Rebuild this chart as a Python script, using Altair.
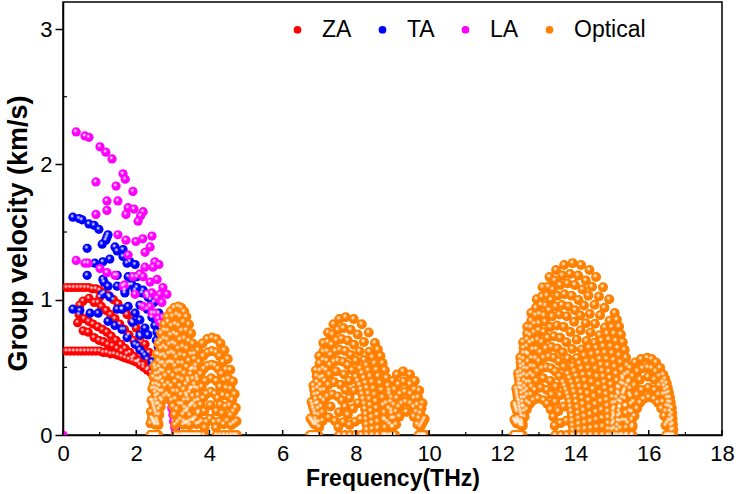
import altair as alt
import pandas as pd

# ---------------- acoustic branches: frequency (THz), group velocity (km/s) ----------------
za_freq = [0.10, 0.20, 0.30, 0.40, 0.50, 0.60, 0.70, 0.80, 0.90, 1.00, 1.12, 1.25, 1.38, 1.50, 1.62, 1.75, 1.88, 2.00, 2.12, 2.24, 2.35,
           0.10, 0.20, 0.30, 0.40, 0.50, 0.60, 0.70, 0.80, 0.90, 1.00, 1.10, 1.20, 1.30, 1.40, 1.50, 1.60, 1.70, 1.80, 1.90, 2.00, 2.10, 2.20, 2.30, 2.40, 2.50, 2.58,
           0.46, 0.55, 0.71, 0.85, 0.96, 1.01, 1.05, 1.18, 1.30, 1.42, 1.55, 1.68, 1.80, 1.93, 2.05, 2.18, 2.30, 2.42,
           0.44, 0.58, 0.70, 0.82, 0.95, 1.08, 1.20, 1.32, 1.45, 1.58, 1.70, 1.83, 1.95, 2.08, 2.20, 2.33,
           0.40, 0.55, 0.69, 0.85, 0.98, 1.10, 1.22, 1.35, 1.48, 1.60, 1.75, 1.90, 2.05]
za_vel = [1.09, 1.09, 1.09, 1.09, 1.09, 1.09, 1.09, 1.08, 1.08, 1.07, 1.05, 1.03, 1.00, 0.97, 0.93, 0.89, 0.84, 0.79, 0.73, 0.67, 0.61,
          0.62, 0.62, 0.62, 0.62, 0.62, 0.62, 0.62, 0.62, 0.62, 0.62, 0.61, 0.61, 0.60, 0.60, 0.59, 0.58, 0.57, 0.56, 0.55, 0.54, 0.52, 0.50, 0.48, 0.46, 0.43, 0.40,
          0.96, 0.99, 1.01, 0.98, 0.98, 1.02, 0.95, 0.92, 0.89, 0.86, 0.82, 0.78, 0.74, 0.70, 0.66, 0.61, 0.56, 0.51,
          0.89, 0.86, 0.84, 0.82, 0.80, 0.78, 0.76, 0.73, 0.70, 0.67, 0.64, 0.61, 0.58, 0.55, 0.52, 0.49,
          0.83, 0.77, 0.76, 0.72, 0.70, 0.69, 0.67, 0.66, 0.64, 0.62, 0.60, 0.57, 0.54]

ta_freq = [0.27, 0.44, 0.52, 0.71, 0.85, 0.98, 1.17, 1.20, 1.07, 0.66, 1.42, 1.48, 1.64, 1.64, 1.83, 1.97, 0.87, 1.09, 1.28, 1.75,
           1.23, 0.66, 1.12, 1.09, 1.48, 1.78, 2.02, 1.23, 1.48, 1.69, 1.89, 1.97, 2.16, 2.30, 1.07, 1.28, 1.69, 1.83, 2.02, 2.19,
           2.32, 0.27, 0.46, 0.74, 0.96, 1.23, 1.42, 1.61, 1.75, 1.97, 2.10, 2.24, 2.43, 1.48, 1.61, 1.78, 1.97, 2.10, 2.10, 2.24,
           2.32, 2.10, 1.91, 2.30, 2.43, 2.51, 2.57, 2.55, 2.60, 2.48, 2.40, 2.62, 3.04, 3.07, 3.09]
ta_vel = [1.61, 1.60, 1.59, 1.56, 1.55, 1.52, 1.44, 1.46, 1.41, 1.38, 1.39, 1.36, 1.37, 1.32, 1.28, 1.26, 1.27, 1.28, 1.30, 1.27,
          1.48, 1.18, 1.13, 1.15, 1.18, 1.17, 1.17, 1.10, 1.10, 1.07, 1.11, 1.07, 1.05, 1.04, 1.04, 1.02, 1.05, 1.11, 1.09, 1.07,
          1.02, 0.93, 0.92, 0.90, 0.90, 0.84, 0.81, 0.78, 0.72, 0.67, 0.63, 0.59, 0.54, 0.93, 0.93, 0.95, 0.90, 0.96, 0.85, 0.79,
          0.74, 0.74, 0.83, 0.93, 0.87, 0.81, 0.76, 0.70, 0.65, 0.98, 1.00, 0.90, 0.10, 0.05, 0.02]

la_freq = [0.36, 0.60, 0.71, 1.01, 1.17, 1.34, 1.64, 1.70, 0.90, 1.45, 1.91, 1.20, 1.50, 1.78, 1.94, 2.19, 1.72, 2.12, 1.20, 0.90,
           2.05, 1.50, 1.72, 1.99, 2.18, 2.43, 2.38, 2.24, 0.36, 0.60, 0.69, 1.01, 1.20, 1.42, 1.78, 2.24, 2.51, 2.62, 2.46, 1.91,
           2.19, 2.57, 2.38, 2.73, 2.65, 2.84, 2.43, 2.30, 2.57, 2.70, 2.19, 2.38, 2.51, 2.60, 2.73, 1.64, 1.97, 1.69, 2.10, 2.65,
           2.43, 2.93, 2.95, 2.97, 3.00, 3.02, 3.05, 3.08, 0.00]
la_vel = [2.24, 2.21, 2.20, 2.13, 2.09, 2.04, 1.93, 1.89, 1.87, 1.84, 1.80, 1.73, 1.73, 1.68, 1.67, 1.65, 1.63, 1.62, 1.66, 1.63,
          1.58, 1.48, 1.44, 1.43, 1.45, 1.47, 1.39, 1.35, 1.29, 1.27, 1.27, 1.23, 1.20, 1.18, 1.33, 1.24, 1.28, 1.26, 1.24, 1.17,
          1.17, 1.15, 1.13, 1.09, 1.04, 1.04, 1.05, 1.04, 1.01, 0.98, 0.95, 0.95, 0.90, 0.86, 0.87, 1.10, 1.04, 1.11, 1.19, 0.83,
          0.90, 0.30, 0.25, 0.20, 0.15, 0.10, 0.06, 0.02, 0.00]

# ---------------- optical branches, one list per band group, traced arch by arch ----------------
opt1_freq = [2.60, 2.61, 2.63, 2.67, 2.71, 2.77, 2.84, 2.91, 2.97, 3.01, 3.05, 3.07, 3.08,
             2.58, 2.59, 2.62, 2.67, 2.72, 2.79, 2.88, 2.96, 3.02, 3.07, 3.11, 3.14, 3.15,
             2.56, 2.57, 2.61, 2.66, 2.73, 2.80, 2.91, 3.01, 3.07, 3.13, 3.18, 3.21, 3.22,
             2.53, 2.53, 2.55, 2.57, 2.60, 2.64, 2.68, 2.74, 2.80, 2.87, 2.94, 3.00, 3.06, 3.11, 3.16, 3.20, 3.23, 3.26, 3.28, 3.29, 3.29,
             2.51, 2.51, 2.53, 2.55, 2.59, 2.63, 2.68, 2.74, 2.81, 2.89, 2.97, 3.04, 3.10, 3.16, 3.21, 3.26, 3.30, 3.32, 3.34, 3.36, 3.36,
             2.49, 2.50, 2.51, 2.54, 2.57, 2.62, 2.68, 2.75, 2.83, 2.91, 3.00, 3.07, 3.15, 3.21, 3.27, 3.32, 3.36, 3.39, 3.41, 3.43, 3.43,
             2.47, 2.48, 2.49, 2.52, 2.56, 2.62, 2.68, 2.76, 2.85, 2.94, 3.04, 3.12, 3.20, 3.27, 3.33, 3.38, 3.42, 3.46, 3.48, 3.50, 3.50,
             2.45, 2.46, 2.47, 2.51, 2.55, 2.61, 2.68, 2.76, 2.86, 2.96, 3.07, 3.16, 3.24, 3.32, 3.38, 3.44, 3.49, 3.52, 3.55, 3.57, 3.57,
             2.42, 2.43, 2.45, 2.48, 2.53, 2.60, 2.68, 2.77, 2.87, 2.99, 3.11, 3.20, 3.29, 3.37, 3.44, 3.50, 3.55, 3.59, 3.62, 3.63, 3.64,
             2.39, 2.39, 2.40, 2.42, 2.44, 2.47, 2.51, 2.56, 2.61, 2.68, 2.76, 2.85, 2.94, 3.04, 3.15, 3.23, 3.31, 3.37, 3.44, 3.50, 3.55, 3.59, 3.63, 3.66, 3.68, 3.70, 3.71, 3.72, 3.72]
opt1_vel = [0, .075, .15, .21, .255, .285, .30, .285, .255, .21, .15, .075, 0,
            0, .095, .19, .266, .323, .361, .38, .361, .323, .266, .19, .095, 0,
            0, .115, .23, .322, .391, .437, .46, .437, .391, .322, .23, .115, 0,
            0, .076, .151, .227, .297, .362, .421, .47, .508, .532, .54, .532, .508, .47, .421, .362, .297, .227, .151, .076, 0,
            0, .085, .171, .256, .336, .409, .476, .531, .573, .601, .61, .601, .573, .531, .476, .409, .336, .256, .171, .085, 0,
            0, .095, .19, .286, .374, .456, .53, .592, .639, .67, .68, .67, .639, .592, .53, .456, .374, .286, .19, .095, 0,
            0, .105, .21, .315, .413, .503, .585, .653, .705, .739, .75, .739, .705, .653, .585, .503, .413, .315, .21, .105, 0,
            0, .115, .23, .344, .451, .549, .64, .713, .771, .808, .82, .808, .771, .713, .64, .549, .451, .344, .23, .115, 0,
            0, .125, .249, .374, .49, .596, .694, .774, .837, .877, .89, .877, .837, .774, .694, .596, .49, .374, .249, .125, 0,
            0, .086, .171, .257, .342, .428, .513, .599, .675, .751, .817, .874, .912, .941, .95, .941, .912, .874, .817, .751, .675, .599, .513, .428, .342, .257, .171, .086, 0]

opt2_freq = [3.85, 3.87, 3.92, 4.02, 4.13, 4.18, 4.20,
             3.75, 3.78, 3.86, 4.03, 4.19, 4.27, 4.30,
             3.65, 3.66, 3.70, 3.76, 3.83, 3.92, 4.04, 4.15, 4.23, 4.30, 4.35, 4.39, 4.40,
             3.55, 3.57, 3.62, 3.69, 3.79, 3.89, 4.05, 4.19, 4.29, 4.37, 4.44, 4.49, 4.50,
             3.45, 3.46, 3.47, 3.51, 3.55, 3.61, 3.68, 3.76, 3.85, 3.95, 4.06, 4.15, 4.24, 4.33, 4.40, 4.46, 4.51, 4.55, 4.58, 4.59, 4.60,
             3.37, 3.38, 3.40, 3.43, 3.49, 3.55, 3.63, 3.72, 3.83, 3.95, 4.07, 4.18, 4.28, 4.37, 4.45, 4.52, 4.58, 4.62, 4.66, 4.67, 4.68,
             3.30, 3.31, 3.33, 3.37, 3.43, 3.50, 3.59, 3.69, 3.81, 3.94, 4.07, 4.19, 4.30, 4.41, 4.50, 4.57, 4.64, 4.69, 4.72, 4.74, 4.75]
opt2_vel = [0, .054, .096, .12, .096, .054, 0,
            0, .099, .176, .22, .176, .099, 0,
            0, .08, .16, .224, .272, .304, .32, .304, .272, .224, .16, .08, 0,
            0, .105, .21, .294, .357, .399, .42, .399, .357, .294, .21, .105, 0,
            0, .073, .146, .218, .286, .348, .406, .452, .489, .512, .52, .512, .489, .452, .406, .348, .286, .218, .146, .073, 0,
            0, .087, .174, .26, .341, .415, .484, .539, .583, .611, .62, .611, .583, .539, .484, .415, .341, .26, .174, .087, 0,
            0, .101, .202, .302, .396, .482, .562, .626, .677, .709, .72, .709, .677, .626, .562, .482, .396, .302, .202, .101, 0]

opt3_freq = [6.97, 7.00, 7.09, 7.26, 7.43, 7.52, 7.55,
             6.95, 6.99, 7.09, 7.31, 7.54, 7.66, 7.70,
             6.92, 6.93, 6.98, 7.05, 7.13, 7.22, 7.36, 7.51, 7.62, 7.71, 7.78, 7.83, 7.85,
             6.90, 6.92, 6.97, 7.05, 7.14, 7.25, 7.41, 7.59, 7.72, 7.83, 7.92, 7.98, 8.00,
             6.88, 6.90, 6.96, 7.05, 7.15, 7.28, 7.46, 7.68, 7.82, 7.95, 8.06, 8.13, 8.15,
             6.86, 6.87, 6.89, 6.92, 6.97, 7.03, 7.10, 7.19, 7.29, 7.40, 7.51, 7.65, 7.78, 7.90, 8.00, 8.10, 8.17, 8.23, 8.27, 8.29, 8.30,
             6.84, 6.85, 6.87, 6.91, 6.96, 7.03, 7.11, 7.21, 7.31, 7.44, 7.56, 7.71, 7.86, 8.00, 8.12, 8.22, 8.30, 8.37, 8.41, 8.44, 8.45,
             6.81, 6.82, 6.84, 6.88, 6.94, 7.02, 7.11, 7.22, 7.34, 7.47, 7.61, 7.78, 7.95, 8.10, 8.23, 8.34, 8.44, 8.51, 8.56, 8.59, 8.60,
             6.78, 6.79, 6.82, 6.86, 6.93, 7.01, 7.11, 7.23, 7.36, 7.51, 7.66, 7.86, 8.05, 8.22, 8.37, 8.51, 8.61, 8.70, 8.75, 8.79, 8.80,
             6.75, 6.76, 6.79, 6.84, 6.91, 7.00, 7.11, 7.24, 7.39, 7.55, 7.72, 7.94, 8.16, 8.35, 8.52, 8.67, 8.79, 8.88, 8.95, 8.99, 9.00,
             8.30, 8.28, 8.25, 8.20, 8.14, 8.05,
             8.45, 8.43, 8.39, 8.34, 8.26, 8.17,
             8.60, 8.58, 8.54, 8.48, 8.39, 8.29,
             8.80, 8.78, 8.73, 8.66, 8.56, 8.45,
             9.00, 8.97, 8.92, 8.84, 8.73, 8.60]
opt3_vel = [0, .059, .104, .13, .104, .059, 0,
            0, .095, .168, .21, .168, .095, 0,
            0, .075, .15, .21, .255, .285, .30, .285, .255, .21, .15, .075, 0,
            0, .098, .195, .273, .332, .371, .39, .371, .332, .273, .195, .098, 0,
            0, .118, .235, .329, .40, .447, .47, .447, .40, .329, .235, .118, 0,
            0, .077, .154, .231, .303, .369, .429, .479, .517, .542, .55, .542, .517, .479, .429, .369, .303, .231, .154, .077, 0,
            0, .088, .176, .265, .347, .422, .491, .548, .592, .621, .63, .621, .592, .548, .491, .422, .347, .265, .176, .088, 0,
            0, .099, .199, .298, .391, .476, .554, .618, .667, .699, .71, .699, .667, .618, .554, .476, .391, .298, .199, .099, 0,
            0, .111, .221, .332, .435, .529, .616, .687, .743, .778, .79, .778, .743, .687, .616, .529, .435, .332, .221, .111, 0,
            0, .122, .244, .365, .479, .583, .679, .757, .818, .857, .87, .857, .818, .757, .679, .583, .479, .365, .244, .122, 0,
            .039, .116, .193, .267, .336, .399,
            .044, .132, .221, .306, .384, .457,
            .050, .149, .249, .344, .433, .515,
            .055, .166, .277, .383, .482, .573,
            .061, .183, .305, .422, .531, .631]

opt4_freq = [9.07, 9.10, 9.19, 9.38, 9.58, 9.68, 9.72,
             9.00, 9.01, 9.05, 9.10, 9.17, 9.25, 9.36, 9.49, 9.58, 9.65, 9.72, 9.76, 9.77,
             8.92, 8.93, 8.98, 9.04, 9.12, 9.21, 9.34, 9.49, 9.59, 9.68, 9.76, 9.80, 9.82,
             8.84, 8.86, 8.90, 8.97, 9.06, 9.16, 9.31, 9.48, 9.60, 9.70, 9.79, 9.84, 9.86,
             8.76, 8.78, 8.83, 8.91, 9.01, 9.12, 9.29, 9.48, 9.61, 9.73, 9.82, 9.88, 9.90]
opt4_vel = [0, .077, .136, .17, .136, .077, 0,
            0, .061, .123, .172, .208, .233, .245, .233, .208, .172, .123, .061, 0,
            0, .08, .16, .224, .272, .304, .32, .304, .272, .224, .16, .08, 0,
            0, .099, .198, .277, .336, .375, .395, .375, .336, .277, .198, .099, 0,
            0, .118, .235, .329, .40, .447, .47, .447, .40, .329, .235, .118, 0]

opt5_freq = [12.55, 12.56, 12.61, 12.67, 12.75, 12.85, 12.98, 13.13, 13.23, 13.32, 13.39, 13.43, 13.45,
             12.53, 12.55, 12.60, 12.68, 12.78, 12.89, 13.05, 13.22, 13.35, 13.45, 13.53, 13.59, 13.61,
             12.51, 12.53, 12.59, 12.68, 12.80, 12.93, 13.12, 13.32, 13.46, 13.58, 13.68, 13.75, 13.77,
             12.50, 12.51, 12.53, 12.56, 12.62, 12.68, 12.76, 12.85, 12.96, 13.08, 13.20, 13.33, 13.45, 13.56, 13.66, 13.74, 13.81, 13.86, 13.90, 13.92, 13.93,
             12.48, 12.49, 12.51, 12.55, 12.61, 12.68, 12.78, 12.88, 13.00, 13.13, 13.27, 13.41, 13.55, 13.68, 13.79, 13.89, 13.96, 14.02, 14.07, 14.09, 14.10,
             12.46, 12.47, 12.50, 12.54, 12.61, 12.69, 12.79, 12.91, 13.04, 13.19, 13.34, 13.50, 13.65, 13.79, 13.92, 14.02, 14.11, 14.18, 14.22, 14.25, 14.26,
             12.44, 12.45, 12.48, 12.53, 12.60, 12.69, 12.80, 12.93, 13.08, 13.24, 13.41, 13.58, 13.75, 13.91, 14.04, 14.16, 14.25, 14.33, 14.38, 14.41, 14.42,
             12.43, 12.44, 12.47, 12.53, 12.60, 12.70, 12.83, 12.97, 13.13, 13.31, 13.49, 13.68, 13.86, 14.03, 14.17, 14.30, 14.40, 14.48, 14.54, 14.57, 14.58,
             12.41, 12.42, 12.46, 12.52, 12.60, 12.71, 12.84, 12.99, 13.17, 13.36, 13.56, 13.76, 13.96, 14.14, 14.30, 14.44, 14.55, 14.63, 14.69, 14.73, 14.74,
             12.39, 12.39, 12.41, 12.44, 12.47, 12.52, 12.59, 12.67, 12.76, 12.87, 13.00, 13.14, 13.28, 13.46, 13.63, 13.81, 13.99, 14.13, 14.28, 14.41, 14.52, 14.62, 14.70, 14.76, 14.81, 14.85, 14.88, 14.89, 14.90,
             12.37, 12.38, 12.39, 12.42, 12.46, 12.51, 12.58, 12.67, 12.76, 12.88, 13.02, 13.18, 13.33, 13.51, 13.70, 13.89, 14.08, 14.23, 14.39, 14.53, 14.66, 14.76, 14.85, 14.91, 14.97, 15.01, 15.04, 15.05, 15.06,
             12.36, 12.37, 12.38, 12.41, 12.46, 12.51, 12.58, 12.68, 12.78, 12.91, 13.06, 13.22, 13.38, 13.58, 13.78, 13.98, 14.19, 14.35, 14.52, 14.67, 14.80, 14.91, 15.00, 15.07, 15.13, 15.18, 15.21, 15.22, 15.23,
             12.34, 12.35, 12.36, 12.40, 12.44, 12.50, 12.58, 12.68, 12.79, 12.92, 13.08, 13.26, 13.43, 13.64, 13.85, 14.07, 14.28, 14.45, 14.64, 14.79, 14.93, 15.05, 15.15, 15.23, 15.29, 15.33, 15.37, 15.38, 15.39,
             12.32, 12.33, 12.35, 12.38, 12.43, 12.49, 12.57, 12.68, 12.79, 12.94, 13.10, 13.29, 13.47, 13.69, 13.92, 14.15, 14.38, 14.56, 14.75, 14.92, 15.07, 15.19, 15.29, 15.38, 15.44, 15.49, 15.52, 15.54, 15.55,
             13.93, 13.91, 13.88, 13.84, 13.78, 13.70,
             14.10, 14.08, 14.05, 14.00, 13.93, 13.84,
             14.26, 14.24, 14.20, 14.15, 14.07, 13.97,
             14.42, 14.40, 14.36, 14.29, 14.21, 14.11,
             14.58, 14.56, 14.51, 14.44, 14.35, 14.24,
             14.74, 14.71, 14.67, 14.59, 14.49, 14.37,
             14.90, 14.89, 14.87, 14.84, 14.79, 14.73, 14.66, 14.57,
             15.06, 15.05, 15.02, 14.99, 14.94, 14.88, 14.80, 14.71,
             15.23, 15.22, 15.19, 15.16, 15.11, 15.04, 14.96, 14.86,
             15.39, 15.38, 15.35, 15.31, 15.26, 15.19, 15.10, 14.99,
             15.55, 15.54, 15.51, 15.47, 15.41, 15.34, 15.24, 15.13]
opt5_vel = [0, .068, .135, .189, .23, .257, .27, .257, .23, .189, .135, .068, 0,
            0, .088, .175, .245, .298, .333, .35, .333, .298, .245, .175, .088, 0,
            0, .105, .21, .294, .357, .399, .42, .399, .357, .294, .21, .105, 0,
            0, .07, .14, .21, .275, .335, .39, .435, .47, .493, .50, .493, .47, .435, .39, .335, .275, .21, .14, .07, 0,
            0, .081, .162, .244, .319, .389, .452, .505, .545, .571, .58, .571, .545, .505, .452, .389, .319, .244, .162, .081, 0,
            0, .091, .182, .273, .358, .436, .507, .566, .611, .640, .65, .640, .611, .566, .507, .436, .358, .273, .182, .091, 0,
            0, .102, .204, .307, .402, .489, .569, .635, .686, .719, .73, .719, .686, .635, .569, .489, .402, .307, .204, .102, 0,
            0, .113, .227, .340, .446, .543, .632, .705, .761, .798, .81, .798, .761, .705, .632, .543, .446, .340, .227, .113, 0,
            0, .125, .249, .374, .49, .596, .694, .774, .837, .877, .89, .877, .837, .774, .694, .596, .49, .374, .249, .125, 0,
            0, .086, .173, .259, .346, .432, .518, .605, .682, .758, .826, .883, .922, .950, .96, .950, .922, .883, .826, .758, .682, .605, .518, .432, .346, .259, .173, .086, 0,
            0, .094, .187, .281, .374, .468, .562, .655, .738, .822, .894, .957, .998, 1.03, 1.04, 1.03, .998, .957, .894, .822, .738, .655, .562, .468, .374, .281, .187, .094, 0,
            0, .101, .202, .302, .403, .504, .605, .706, .795, .885, .963, 1.03, 1.075, 1.109, 1.12, 1.109, 1.075, 1.03, .963, .885, .795, .706, .605, .504, .403, .302, .202, .101, 0,
            0, .107, .214, .321, .428, .536, .643, .750, .845, .940, 1.023, 1.095, 1.142, 1.178, 1.19, 1.178, 1.142, 1.095, 1.023, .940, .845, .750, .643, .536, .428, .321, .214, .107, 0,
            0, .114, .229, .343, .457, .572, .686, .80, .902, 1.003, 1.092, 1.168, 1.219, 1.257, 1.27, 1.257, 1.219, 1.168, 1.092, 1.003, .902, .80, .686, .572, .457, .343, .229, .114, 0,
            .035, .105, .175, .243, .305, .363,
            .041, .122, .203, .281, .354, .421,
            .046, .137, .228, .315, .397, .471,
            .051, .153, .256, .354, .445, .529,
            .057, .170, .284, .393, .494, .587,
            .062, .187, .312, .432, .543, .645,
            .043, .130, .216, .302, .389, .475, .562, .643,
            .047, .140, .234, .328, .421, .515, .608, .697,
            .050, .151, .252, .353, .454, .554, .655, .750,
            .054, .161, .268, .375, .482, .589, .696, .797,
            .057, .171, .286, .400, .514, .629, .743, .851]

opt6_freq = [15.55, 15.56, 15.61, 15.68, 15.76, 15.86, 16.00, 16.15, 16.25, 16.34, 16.42, 16.46, 16.48,
             15.41, 15.43, 15.49, 15.58, 15.68, 15.81, 15.99, 16.16, 16.27, 16.38, 16.46, 16.51, 16.53,
             15.28, 15.30, 15.37, 15.48, 15.61, 15.76, 15.98, 16.16, 16.29, 16.40, 16.49, 16.55, 16.57,
             15.14, 15.15, 15.17, 15.22, 15.28, 15.35, 15.45, 15.56, 15.69, 15.83, 15.97, 16.08, 16.19, 16.29, 16.38, 16.45, 16.51, 16.56, 16.59, 16.61, 16.62,
             15.00, 15.01, 15.04, 15.09, 15.16, 15.25, 15.36, 15.49, 15.63, 15.79, 15.96, 16.08, 16.20, 16.31, 16.40, 16.49, 16.55, 16.60, 16.64, 16.66, 16.67,
             16.62, 16.61, 16.58, 16.54, 16.48, 16.42,
             16.67, 16.65, 16.63, 16.58, 16.52, 16.45,
             15.14, 15.16, 15.19, 15.24, 15.31, 15.40,
             15.00, 15.02, 15.06, 15.12, 15.20, 15.30]
opt6_vel = [0, .07, .14, .196, .238, .266, .28, .266, .238, .196, .14, .07, 0,
            0, .088, .175, .245, .298, .333, .35, .333, .298, .245, .175, .088, 0,
            0, .108, .215, .301, .366, .409, .43, .409, .366, .301, .215, .108, 0,
            0, .07, .14, .21, .275, .335, .39, .435, .47, .493, .50, .493, .47, .435, .39, .335, .275, .21, .14, .07, 0,
            0, .08, .16, .239, .314, .382, .445, .496, .536, .561, .57, .561, .536, .496, .445, .382, .314, .239, .16, .08, 0,
            .035, .105, .175, .243, .305, .363,
            .040, .120, .200, .276, .348, .413,
            .035, .105, .175, .243, .305, .363,
            .040, .120, .200, .276, .348, .413]

# ---------------- axis tick positions ----------------
x_major = [0, 2, 4, 6, 8, 10, 12, 14, 16, 18]
x_minor = [1, 3, 5, 7, 9, 11, 13, 15, 17]
y_major = [0, 1, 2, 3]
y_minor = [0.5, 1.5, 2.5]

branches = ["ZA", "TA", "LA", "Optical"]
branch_colors = ["#ff0000", "#0000ff", "#ff00ff", "#ff8000"]


def table(freq, vel, name):
    return pd.DataFrame({"freq": freq, "vel": vel, "branch": name})


acoustic = pd.concat([table(za_freq, za_vel, "ZA"),
                      table(ta_freq, ta_vel, "TA"),
                      table(la_freq, la_vel, "LA")], ignore_index=True)
optical = pd.concat([table(f, v, "Optical") for f, v in [
    (opt1_freq, opt1_vel), (opt2_freq, opt2_vel), (opt3_freq, opt3_vel),
    (opt4_freq, opt4_vel), (opt5_freq, opt5_vel), (opt6_freq, opt6_vel)]], ignore_index=True)

FONT = "Liberation Sans"
W, H = 659, 433

x_scale = alt.Scale(domain=[0, 18], nice=False, zero=False)
y_scale = alt.Scale(domain=[0, 3.2], nice=False, zero=False)
color_scale = alt.Scale(domain=branches, range=branch_colors)

x_axis = alt.Axis(values=x_major, format="d", ticks=False, labelPadding=8, labelFontSize=22,
                  labelFont=FONT, labelColor="black", labelFlush=False, title="Frequency(THz)",
                  titleFont=FONT, titleFontSize=23, titleFontWeight="bold", titleColor="black",
                  titlePadding=3, domainColor="black", domainWidth=1.5, grid=False)
y_axis = alt.Axis(values=y_major, format="d", tickSize=8, tickWidth=1.5, tickColor="black",
                  labelPadding=3, labelFontSize=22, labelFont=FONT, labelColor="black",
                  labelFlush=False, title="Group velocity (km/s)", titleFont=FONT, titleFontSize=27,
                  titleFontWeight="bold", titleColor="black", titlePadding=7, titleY=231,
                  domainColor="black", domainWidth=1.5, grid=False)

X = alt.X("freq:Q", scale=x_scale, axis=x_axis)
Y = alt.Y("vel:Q", scale=y_scale, axis=y_axis)

# glossy sphere look: a small white radial highlight laid over each coloured ball
shine = alt.RadialGradient(
    gradient="radial", x1=0.42, y1=0.38, r1=0, x2=0.42, y2=0.38, r2=0.5,
    stops=[alt.GradientStop(color="rgba(255,255,255,0.95)", offset=0),
           alt.GradientStop(color="rgba(255,255,255,0.7)", offset=0.18),
           alt.GradientStop(color="rgba(255,255,255,0)", offset=0.45)])

legend = alt.Legend(title=None, orient="none", legendX=223, legendY=16, direction="horizontal",
                    symbolType="circle", symbolSize=60, symbolStrokeWidth=0, labelFont=FONT,
                    labelFontSize=23, labelColor="black", labelOffset=13, columnPadding=19,
                    padding=0)

ACOUSTIC_SIZE = 85
OPTICAL_SIZE = 100

acoustic_balls = alt.Chart(acoustic).mark_circle(size=ACOUSTIC_SIZE, opacity=1, clip=True).encode(
    x=X, y=Y, color=alt.Color("branch:N", scale=color_scale, legend=legend))
acoustic_shine = alt.Chart(acoustic).mark_circle(size=ACOUSTIC_SIZE, opacity=1, fill=shine, clip=True).encode(x=X, y=Y)
optical_balls = alt.Chart(optical).mark_circle(size=OPTICAL_SIZE, opacity=1, clip=True).encode(
    x=X, y=Y, color=alt.Color("branch:N", scale=color_scale, legend=legend))
optical_shine = alt.Chart(optical).mark_circle(size=OPTICAL_SIZE, opacity=1, fill=shine, clip=True).encode(x=X, y=Y)

# x ticks point into the plot; y minor ticks likewise
x_major_ticks = alt.Chart(pd.DataFrame({"freq": x_major})).mark_rule(color="black", strokeWidth=1.5).encode(
    x=X, y=alt.value(H), y2=alt.value(H - 5))
x_minor_ticks = alt.Chart(pd.DataFrame({"freq": x_minor})).mark_rule(color="black", strokeWidth=1.2).encode(
    x=X, y=alt.value(H), y2=alt.value(H - 3))
y_minor_ticks = alt.Chart(pd.DataFrame({"vel": y_minor})).mark_rule(color="black", strokeWidth=1.2).encode(
    y=Y, x=alt.value(0), x2=alt.value(4))

chart = alt.layer(
    acoustic_balls, acoustic_shine, optical_balls, optical_shine,
    x_major_ticks, x_minor_ticks, y_minor_ticks
).properties(
    width=W, height=H,
    padding={"left": 63, "top": 2, "right": 14, "bottom": 59},
    autosize=alt.AutoSizeParams(type="none"),
    background="white",
).configure_view(stroke="black", strokeWidth=1.5)

chart.save("out.html", embed_options={"renderer": "svg", "actions": False})
